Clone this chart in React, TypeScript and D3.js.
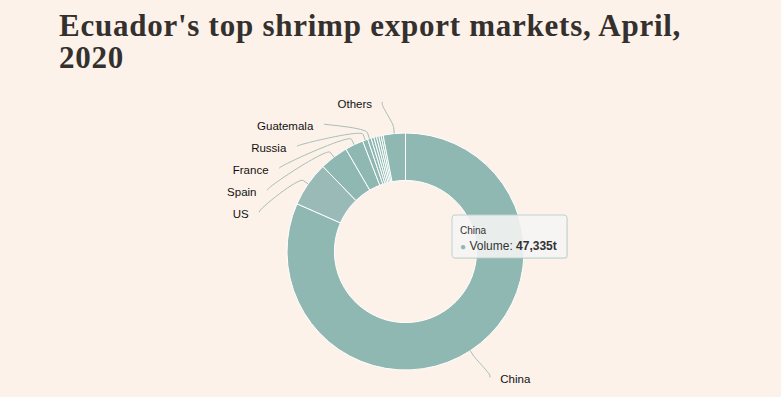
import React from 'react';
import * as d3 from 'd3';

const categories = ['China', 'US', 'Spain', 'France', 'Russia', 'Guatemala', 'Italy', 'South Korea', 'Canada', 'Netherlands', 'Japan', 'Others'];
const volumes = [47335, 3560, 2255, 1450, 419, 274, 225, 209, 193, 177, 161, 1756];
const titleLines = ["Ecuador's top shrimp export markets, April,", '2020'];
const tooltipIndex = 0;
const tooltipLabel = 'Volume';
const unit = 't';

const W = 781;
const H = 397;
const BG = '#fdf2e9';
const SLICE = '#8eb8b1';
const SLICE_ALT = '#99bab7';

interface Datum { name: string; value: number; }

export default function App() {
  const cx = 405.5, cy = 251.5, R = 118.5, r0 = R * 0.6;
  const data: Datum[] = categories.map((c, i) => ({ name: c, value: volumes[i] }));
  const pie = d3.pie<Datum>().sort(null).value(d => d.value).startAngle(0).endAngle(2 * Math.PI);
  const arcs = pie(data);
  const arcGen = d3.arc<d3.PieArcDatum<Datum>>().innerRadius(r0).outerRadius(R);

  const natR = R + 31.5;
  const connR = 151;
  const spacing = 22;
  const maxDist = 60;

  type Lab = { i: number; side: number; nat: number; y: number; a: number; value: number };
  const labs: Lab[] = arcs.map((a, i) => {
    const m = (a.startAngle + a.endAngle) / 2;
    return { i, side: Math.sin(m) < 0 ? -1 : 1, nat: cy - natR * Math.cos(m), y: 0, a: m, value: a.value };
  });

  const placed: Lab[] = [];
  [-1, 1].forEach(side => {
    const cand = labs.filter(l => l.side === side).sort((a, b) => b.value - a.value);
    let kept: Lab[] = [];
    cand.forEach(c => {
      const trial = [...kept, c].sort((a, b) => a.nat - b.nat);
      let prev = -Infinity;
      let ok = true;
      const ys: number[] = [];
      trial.forEach(t => {
        const y = Math.max(t.nat, prev + spacing);
        if (y - t.nat > maxDist) ok = false;
        ys.push(y);
        prev = y;
      });
      if (ok) {
        trial.forEach((t, k) => (t.y = ys[k]));
        kept = trial;
      }
    });
    placed.push(...kept);
  });

  const labelEls = placed.map(l => {
    const s = l.side;
    const dy = l.y - cy;
    const x = cx + s * Math.sqrt(Math.max(0, connR * connR - dy * dy));
    const touch = [cx + R * Math.sin(l.a), cy - R * Math.cos(l.a)];
    const brk = [cx + (R + 6) * Math.sin(l.a), cy - (R + 6) * Math.cos(l.a)];
    const path = `M${x},${l.y} C${x + s * 5},${l.y} ${2 * brk[0] - touch[0]},${2 * brk[1] - touch[1]} ${brk[0]},${brk[1]} L${touch[0]},${touch[1]}`;
    return (
      <g key={l.i}>
        <path d={path} fill="none" stroke="#a6bfb9" strokeWidth={1} />
        <text x={x + s * 11} y={l.y + 5.5} textAnchor={s < 0 ? 'end' : 'start'}
          fontFamily="'Liberation Sans', Arial, sans-serif" fontSize={11.5} fill="#111">
          {categories[l.i]}
        </text>
      </g>
    );
  });

  const tx = cx + 46.5, ty = cy - 36.5;
  const fmt = d3.format(',');

  return (
    <div style={{ position: 'fixed', left: 0, top: 0, width: W, height: H, background: BG }}>
      <svg width={W} height={H} style={{ display: 'block' }}>
        <rect x={0} y={0} width={W} height={H} fill={BG} />
        <text fontFamily="'Liberation Serif', 'DejaVu Serif', serif" fontWeight={700} fontSize={31} fill="#33302e" letterSpacing={0.75}>
          {titleLines.map((t, i) => (
            <tspan key={i} x={59} y={36 + i * 32}>{t}</tspan>
          ))}
        </text>
        <g>
          {arcs.map((a, i) => (
            <path key={i} d={arcGen(a) || ''} transform={`translate(${cx},${cy})`}
              fill={i === 1 ? SLICE_ALT : SLICE} stroke="#ffffff" strokeWidth={1} strokeLinejoin="round" />
          ))}
        </g>
        {labelEls}
        <g transform={`translate(${tx},${ty})`}>
          <rect x={1} y={1} width={115} height={43} rx={3} fill="rgba(0,0,0,0.06)" />
          <rect x={0} y={0} width={115} height={43} rx={3} fill="rgba(247,247,247,0.88)" stroke="#bcd3cf" strokeWidth={1} />
          <text x={8} y={19} fontFamily="'Liberation Sans', Arial, sans-serif" fontSize={10} fill="#333">{categories[tooltipIndex]}</text>
          <text x={8} y={35} fontFamily="'Liberation Sans', Arial, sans-serif" fontSize={12} fill="#333">
            <tspan fill={SLICE} fontSize={10}>●</tspan>
            <tspan> {tooltipLabel}: </tspan>
            <tspan fontWeight={700}>{fmt(volumes[tooltipIndex])}{unit}</tspan>
          </text>
        </g>
      </svg>
    </div>
  );
}
